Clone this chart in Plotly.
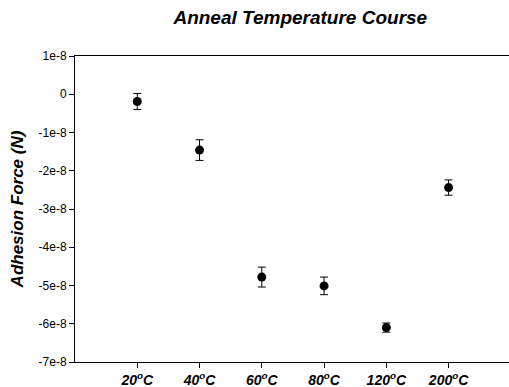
import plotly.graph_objects as go

categories = ["20<sup>o</sup>C", "40<sup>o</sup>C", "60<sup>o</sup>C", "80<sup>o</sup>C", "120<sup>o</sup>C", "200<sup>o</sup>C"]
positions = [1, 2, 3, 4, 5, 6]
adhesion = [-0.19e-8, -1.46e-8, -4.78e-8, -5.01e-8, -6.10e-8, -2.44e-8]
errors = [0.21e-8, 0.27e-8, 0.26e-8, 0.23e-8, 0.12e-8, 0.20e-8]
ytick_vals = [1e-8, 0, -1e-8, -2e-8, -3e-8, -4e-8, -5e-8, -6e-8, -7e-8]
ytick_text = ["1e-8", "0", "-1e-8", "-2e-8", "-3e-8", "-4e-8", "-5e-8", "-6e-8", "-7e-8"]

FONT = "Liberation Sans, Arial, sans-serif"

fig = go.Figure(go.Scatter(
    x=positions, y=adhesion, mode="markers",
    marker=dict(color="black", size=9),
    error_y=dict(type="data", array=errors, color="black", thickness=1, width=4),
    showlegend=False, cliponaxis=False,
))

fig.update_layout(
    width=509, height=387,
    margin=dict(l=75, r=0, t=56, b=25, pad=0),
    paper_bgcolor="white", plot_bgcolor="white",
    title=dict(text="Anneal Temperature Course", x=0.59, xanchor="center", y=0.955, yanchor="middle",
               font=dict(family=FONT, size=19, color="black", weight="bold", style="italic")),
    xaxis=dict(range=[0, 6.97], tickvals=positions, ticktext=categories,
               showgrid=False, zeroline=False, showline=True, linecolor="black", linewidth=1,
               mirror=True, ticks="outside", ticklen=5, tickcolor="black",
               tickfont=dict(family=FONT, size=14, color="black", weight="bold", style="italic")),
    yaxis=dict(range=[-7e-8, 1e-8], tickvals=ytick_vals, ticktext=ytick_text,
               showgrid=False, zeroline=False, showline=True, linecolor="black", linewidth=1,
               mirror=False, ticks="outside", ticklen=5, tickcolor="black",
               tickfont=dict(family=FONT, size=12, color="black"),
               title=dict(text="Adhesion Force (N)", standoff=10,
                          font=dict(family=FONT, size=17, color="black", weight="bold", style="italic"))),
)

fig.write_html("out.html", config={"displayModeBar": False})
